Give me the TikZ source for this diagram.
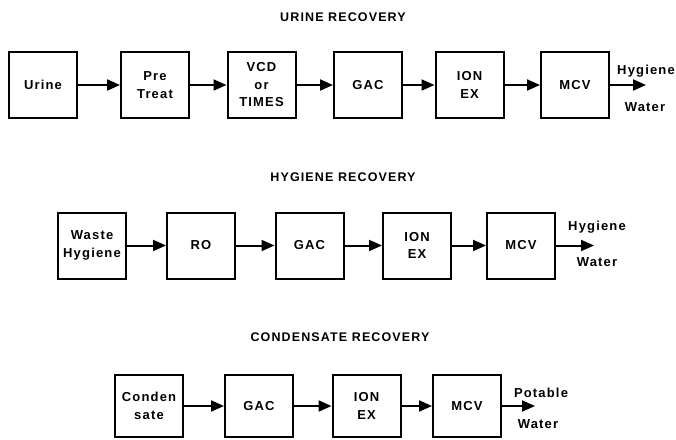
\documentclass[tikz,border=0pt]{standalone}
\usepackage{fontspec}
\setmainfont{Liberation Sans}
\newfontfamily\labfont[LetterSpace=9]{Liberation Sans}
\usetikzlibrary{arrows.meta}
\begin{document}
\begin{tikzpicture}[x=1pt,y=-1pt,
  blk/.style={draw, line width=2pt, minimum width=68pt, minimum height=66pt, inner sep=0pt, align=center, font=\labfont\bfseries\fontsize{13}{17.5}\selectfont},
  flow/.style={line width=2pt, -{Triangle[length=13pt,width=11pt]}},
  ttl/.style={font=\labfont\bfseries\fontsize{12.5}{14}\selectfont},
  lbl/.style={font=\labfont\bfseries\fontsize{13}{14}\selectfont}]
\useasboundingbox (0,0) rectangle (676,439);

% ---------- Urine recovery ----------
\node[ttl] (t1) at (343,17) {URINE RECOVERY};
\node[blk] (a1) at (43,85) {Urine};
\node[blk] (a2) at (155,85) {Pre\\Treat};
\node[blk] (a3) at (261.5,85) {VCD\\or\\TIMES};
\node[blk] (a4) at (368,85) {GAC};
\node[blk] (a5) at (469.5,85) {ION\\EX};
\node[blk] (a6) at (575,85) {MCV};
\coordinate (a7) at (646,85);
\node[lbl] (h1) at (646,71) {Hygiene};
\node[lbl] (w1) at (645,107) {Water};
\draw[flow] (a1) -- (a2);
\draw[flow] (a2) -- (a3);
\draw[flow] (a3) -- (a4);
\draw[flow] (a4) -- (a5);
\draw[flow] (a5) -- (a6);
\draw[flow] (a6) -- (a7);

% ---------- Hygiene recovery ----------
\node[ttl] (t2) at (343,177) {HYGIENE RECOVERY};
\node[blk] (b1) at (92,245.5) {Waste\\Hygiene};
\node[blk] (b2) at (201,245.5) {RO};
\node[blk] (b3) at (309.5,245.5) {GAC};
\node[blk] (b4) at (417,245.5) {ION\\EX};
\node[blk] (b5) at (521,245.5) {MCV};
\coordinate (b6) at (594,245.5);
\node[lbl] (h2) at (597,227) {Hygiene};
\node[lbl] (w2) at (597,262) {Water};
\draw[flow] (b1) -- (b2);
\draw[flow] (b2) -- (b3);
\draw[flow] (b3) -- (b4);
\draw[flow] (b4) -- (b5);
\draw[flow] (b5) -- (b6);

% ---------- Condensate recovery ----------
\node[ttl] (t3) at (340,337) {CONDENSATE RECOVERY};
\node[blk, minimum height=62pt] (c1) at (149,406) {Conden\\sate};
\node[blk, minimum height=62pt] (c2) at (259,406) {GAC};
\node[blk, minimum height=62pt] (c3) at (366.5,406) {ION\\EX};
\node[blk, minimum height=62pt] (c4) at (467,406) {MCV};
\coordinate (c5) at (535,406);
\node[lbl] (p3) at (541,393) {Potable};
\node[lbl] (w3) at (538,424) {Water};
\draw[flow] (c1) -- (c2);
\draw[flow] (c2) -- (c3);
\draw[flow] (c3) -- (c4);
\draw[flow] (c4) -- (c5);
\end{tikzpicture}
\end{document}
